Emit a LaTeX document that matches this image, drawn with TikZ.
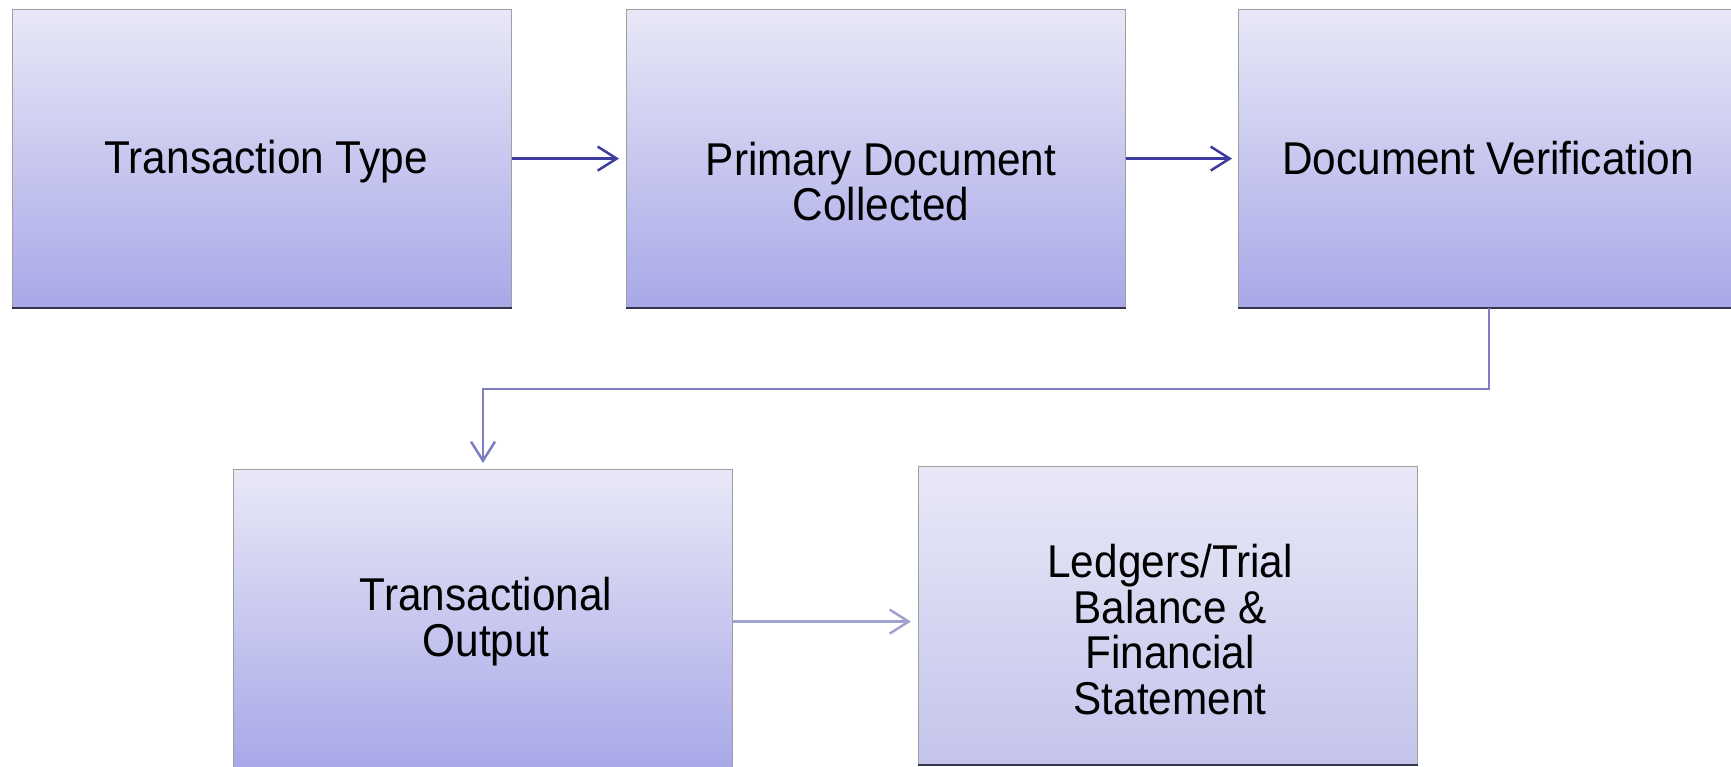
\documentclass[tikz,border=0pt]{standalone}
\usepackage{fontspec}
\newfontfamily\boxfont{Liberation Sans}[FakeStretch=0.92]
\usetikzlibrary{arrows.meta,positioning}
\definecolor{boxtop}{HTML}{E8E8F7}
\definecolor{boxbot}{HTML}{A8A8E8}
\definecolor{boxbotlight}{HTML}{C4C4EC}
\definecolor{edgedark}{HTML}{34344A}
\definecolor{arrowdark}{HTML}{3C3C9E}
\definecolor{arrowmid}{HTML}{7E7EC2}
\definecolor{arrowlight}{HTML}{A2A2CE}
\begin{document}
\begin{tikzpicture}[x=1pt, y=-1pt, >={Straight Barb[length=19pt,width=24pt]},
    procbox/.style={rectangle, anchor=north west, inner sep=0pt, minimum width=499pt, minimum height=298pt,
        top color=boxtop, bottom color=boxbot, draw=gray!75, line width=1.2pt},
    procboxlight/.style={procbox, bottom color=boxbotlight},
    boxlabel/.style={align=center, font=\boxfont\fontsize{46}{45.7}\selectfont},
    bottomedge/.style={draw=edgedark, line width=2.5pt},
    flow/.style={->, line width=2.5pt}]
    \useasboundingbox (0,0) rectangle (1731,767);
    % process boxes
    \node[procbox] (type) at (12,9) {};
    \node[procbox] (primary) at (626,9) {};
    \node[procbox] (verify) at (1238,9) {};
    \node[procbox] (output) at (233,469) {};
    \node[procboxlight] (ledger) at (918,466) {};
    \foreach \b in {type,primary,verify,output,ledger}
        \draw[bottomedge] (\b.south west) -- (\b.south east);
    % labels
    \node[boxlabel] (typetext) at ([xshift=4pt,yshift=-3pt]type.center) {Transaction Type};
    \node[boxlabel] (primarytext) at ([xshift=5pt,yshift=-23pt]primary.center) {Primary Document\\Collected};
    \node[boxlabel] (verifytext) at ([yshift=1pt]verify.center) {Document Verification};
    \node[boxlabel] (outputtext) at ([xshift=3pt,yshift=-3pt]output.center) {Transactional\\Output};
    \node[boxlabel] (ledgertext) at ([xshift=2pt,yshift=-14pt]ledger.center) {Ledgers/Trial\\Balance \&\\Financial\\Statement};
    % connectors
    \coordinate (bend1) at (1489,389);
    \coordinate (bend2) at (483,389);
    \draw[flow, arrowdark, shorten >=7pt] (type.east) -- (primary.west);
    \draw[flow, arrowdark, shorten >=6pt] (primary.east) -- (verify.west);
    \draw[flow, arrowmid, shorten >=6pt] (verify.south -| bend1) -- (bend1) -- (bend2) -- (bend2 |- output.north);
    \draw[flow, arrowlight, shorten >=7pt] ([yshift=-3pt]output.east) -- ([yshift=-3pt]output.east -| ledger.west);
\end{tikzpicture}
\end{document}
